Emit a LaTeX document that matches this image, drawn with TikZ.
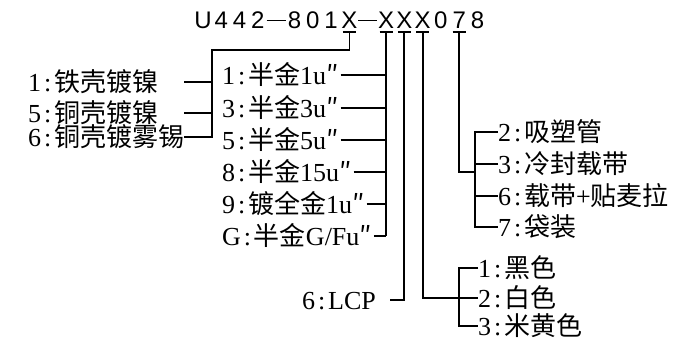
\documentclass[tikz,border=0pt]{standalone}
\usepackage{fontspec}
\setmainfont{Liberation Serif}
\newfontfamily\cjk{Noto Sans CJK SC}
\newfontfamily\titlefont{Liberation Sans}
\usetikzlibrary{positioning}
\newcommand{\zh}[1]{{\cjk #1}}
\newcommand{\hcolon}{\makebox[0.5em]{:}}

\begin{document}
\begin{tikzpicture}[
  x=1pt,y=-1pt,
  ln/.style={line width=1.8pt},
  tchar/.style={font=\titlefont\fontsize{24pt}{24pt}\selectfont,inner sep=0pt,anchor=base},
  lbl/.style={font=\fontsize{26pt}{28pt}\selectfont,inner sep=0pt,anchor=west,text height=21pt,text depth=3pt}
]
\useasboundingbox (0,0) rectangle (687,343);
% part number, one cell per character
\foreach \ch [count=\i from 0] in {U,4,4,2,{\rule[0.3em]{19pt}{1.2pt}},8,0,1,X,{\rule[0.3em]{19pt}{1.2pt}},X,X,X,0,7,8}
  \node[tchar] (c\i) at (203+18.3*\i,28) {\ch};
\foreach \i in {8,10,11,12,14}
  \draw[ln] ([xshift=-6.5pt,yshift=-4pt]c\i.base) -- ([xshift=6.5pt,yshift=-4pt]c\i.base);

% shell plating
\node[lbl] (l1) at (28,82) {1\hcolon\zh{铁壳镀镍}};
\node[lbl] (l5) at (28,113) {5\hcolon\zh{铜壳镀镍}};
\node[lbl] (l6) at (28,137) {6\hcolon\zh{铜壳镀雾锡}};
\coordinate (sA) at (212,50);
\draw[ln] ([yshift=-4pt]c8.base) |- (sA) -- (sA |- l6) -- (l6.east);
\draw[ln] (l1 -| l6.east) -- (l1 -| sA);
\draw[ln] (l5 -| l6.east) -- (l5 -| sA);

% gold plating
\node[lbl] (m1) at (222,75) {1\hcolon\zh{半金}1u\zh{″}};
\node[lbl] (m3) at (222,108) {3\hcolon\zh{半金}3u\zh{″}};
\node[lbl] (m5) at (222,140) {5\hcolon\zh{半金}5u\zh{″}};
\node[lbl] (m8) at (222,172) {8\hcolon\zh{半金}15u\zh{″}};
\node[lbl] (m9) at (222,204) {9\hcolon\zh{镀全金}1u\zh{″}};
\node[lbl] (mG) at (222,236) {G\hcolon\zh{半金}G/Fu\zh{″}};
\draw[ln] ([yshift=-4pt]c10.base) -- (c10 |- mG);
\foreach \m in {m1,m3,m5,m8,m9,mG}
  \draw[ln] ([xshift=2pt]\m.east) -- (\m -| c10);

% material
\node[lbl] (lcp) at (302,300) {6\hcolon LCP};
\draw[ln] ([yshift=-4pt]c11.base) |- ([xshift=14pt]lcp.east);

% colour
\node[lbl] (k1) at (478,268) {1\hcolon\zh{黑色}};
\node[lbl] (k2) at (478,298) {2\hcolon\zh{白色}};
\node[lbl] (k3) at (478,326) {3\hcolon\zh{米黄色}};
\coordinate (bD) at (459,298);
\draw[ln] ([yshift=-4pt]c12.base) |- (k2.west);
\draw[ln] (k1.west) -| (bD |- k3) -- (k3.west);

% packing
\node[lbl] (p2) at (498,132) {2\hcolon\zh{吸塑管}};
\node[lbl] (p3) at (498,164) {3\hcolon\zh{冷封载带}};
\node[lbl] (p6) at (498,196) {6\hcolon\zh{载带}+\zh{贴麦拉}};
\node[lbl] (p7) at (498,227) {7\hcolon\zh{袋装}};
\coordinate (bE) at (475,172);
\draw[ln] ([yshift=-4pt]c14.base) |- (bE);
\draw[ln] (p2.west) -| (bE |- p7) -- (p7.west);
\draw[ln] (p3.west) -- (p3 -| bE);
\draw[ln] (p6.west) -- (p6 -| bE);
\end{tikzpicture}
\end{document}
